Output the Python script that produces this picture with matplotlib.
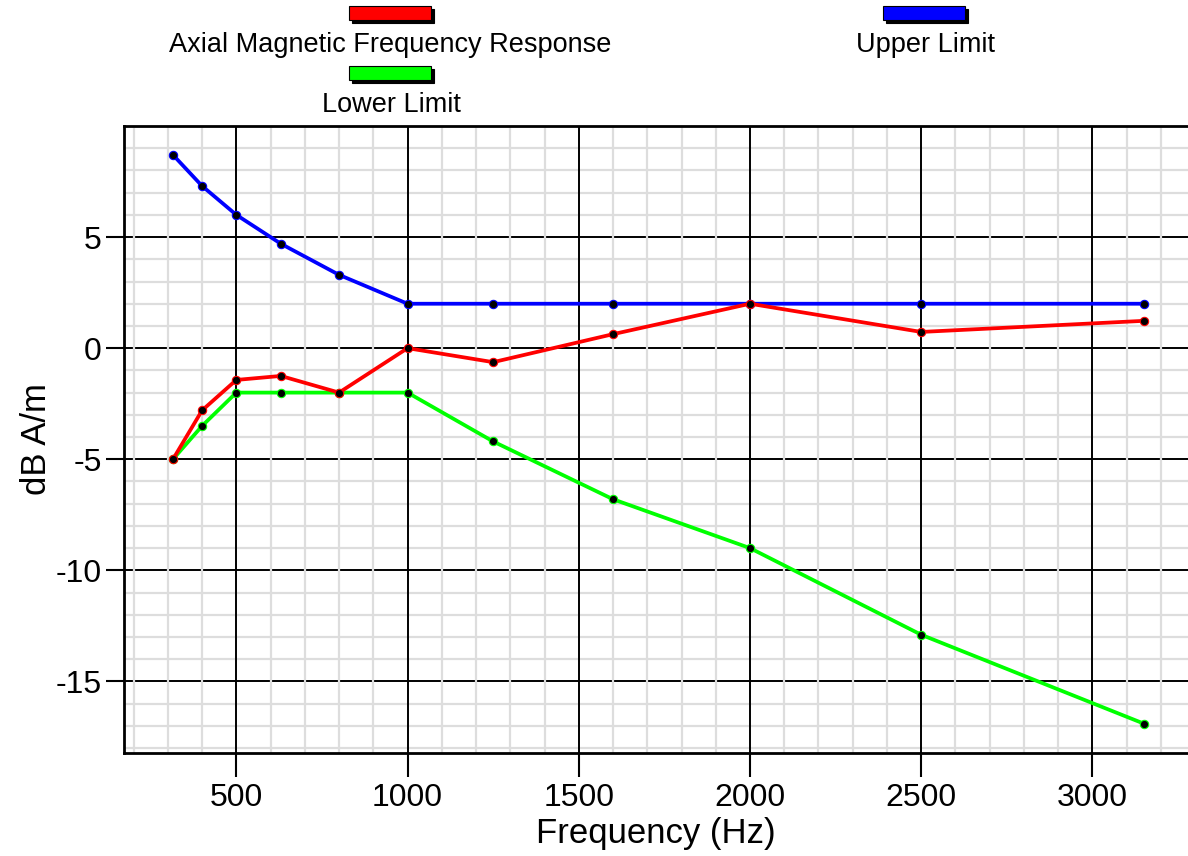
import matplotlib
matplotlib.use("Agg")
import matplotlib.pyplot as plt
from matplotlib.patches import Rectangle
from matplotlib.ticker import MultipleLocator

plt.rcParams['font.family'] = ['Liberation Sans', 'DejaVu Sans']

# third-octave band centres (Hz)
freq = [315, 400, 500, 630, 800, 1000, 1250, 1600, 2000, 2500, 3150]
# dB A/m
response = [-5.0, -2.8, -1.43, -1.25, -2.0, 0.0, -0.63, 0.63, 2.0, 0.73, 1.23]
upper = [8.7, 7.3, 6.0, 4.7, 3.3, 2.0, 2.0, 2.0, 2.0, 2.0, 2.0]
lower = [-5.0, -3.5, -2.0, -2.0, -2.0, -2.0, -4.2, -6.8, -9.0, -12.9, -16.9]

xticks = [500, 1000, 1500, 2000, 2500, 3000]
yticks = [-15, -10, -5, 0, 5]

series = [
    ("Lower Limit", lower, "#00ff00"),
    ("Upper Limit", upper, "#0000ff"),
    ("Axial Magnetic Frequency Response", response, "#ff0000"),
]

W, H = 1188, 856
fig = plt.figure(figsize=(W / 100, H / 100), dpi=100)
ax = fig.add_axes([124 / W, 1 - 752.5 / H, 1 - 124 / W, (752.5 - 126) / H])

for name, vals, col in series:
    ax.plot(freq, vals, color=col, lw=2.7, marker="o", ms=6,
            mfc="black", mec=col, mew=0.8, zorder=3)

ax.xaxis.set_minor_locator(MultipleLocator(100))
ax.yaxis.set_minor_locator(MultipleLocator(1))
ax.set_xticks(xticks)
ax.set_xticklabels([str(v) for v in xticks])
ax.set_yticks(yticks)
ax.set_yticklabels([str(v) for v in yticks])
ax.set_xlim(172, 3279)
ax.set_ylim(-18.2, 10.0)

ax.set_axisbelow(True)
ax.grid(which="minor", color="#dddddd", lw=1.6)
ax.grid(which="major", color="black", lw=1.4)
# vertical grid sits on top of the horizontal one
ax.yaxis.set_zorder(0.4)
ax.xaxis.set_zorder(0.5)

ax.tick_params(which="minor", length=0)
ax.tick_params(axis="x", which="major", direction="out", length=17, width=1.5,
               pad=5, labelsize=23)
ax.tick_params(axis="y", which="major", direction="out", length=13, width=1.5,
               pad=3, labelsize=23)

for side in ["top", "left", "bottom"]:
    ax.spines[side].set_linewidth(2)
ax.spines["right"].set_visible(False)

ax.set_xlabel("Frequency (Hz)", fontsize=25, labelpad=3)
ax.set_ylabel("dB A/m", fontsize=25)
ax.yaxis.set_label_coords(-0.067, 0.5)


def legend_key(x0, y0, x1, y1, col):
    # colour swatch with a drop shadow, given in pixel units
    for dx, fc in [(3, "black"), (0, col)]:
        r = Rectangle(((x0 + dx) / W, 1 - (y1 + dx) / H), (x1 - x0) / W,
                      (y1 - y0) / H, transform=fig.transFigure,
                      facecolor=fc, edgecolor="black", lw=0.8)
        fig.add_artist(r)


legend_key(349, 6, 431, 20, "#ff0000")
legend_key(349, 66, 431, 80, "#00ff00")
legend_key(883, 6, 965, 20, "#0000ff")
fig.text(390 / W, 1 - 45 / H, "Axial Magnetic Frequency Response",
         ha="center", va="center", fontsize=19.5)
fig.text(391 / W, 1 - 105 / H, "Lower Limit", ha="center", va="center",
         fontsize=19.5)
fig.text(925 / W, 1 - 45 / H, "Upper Limit", ha="center", va="center",
         fontsize=19.5)

fig.savefig("out.png", dpi=100)
